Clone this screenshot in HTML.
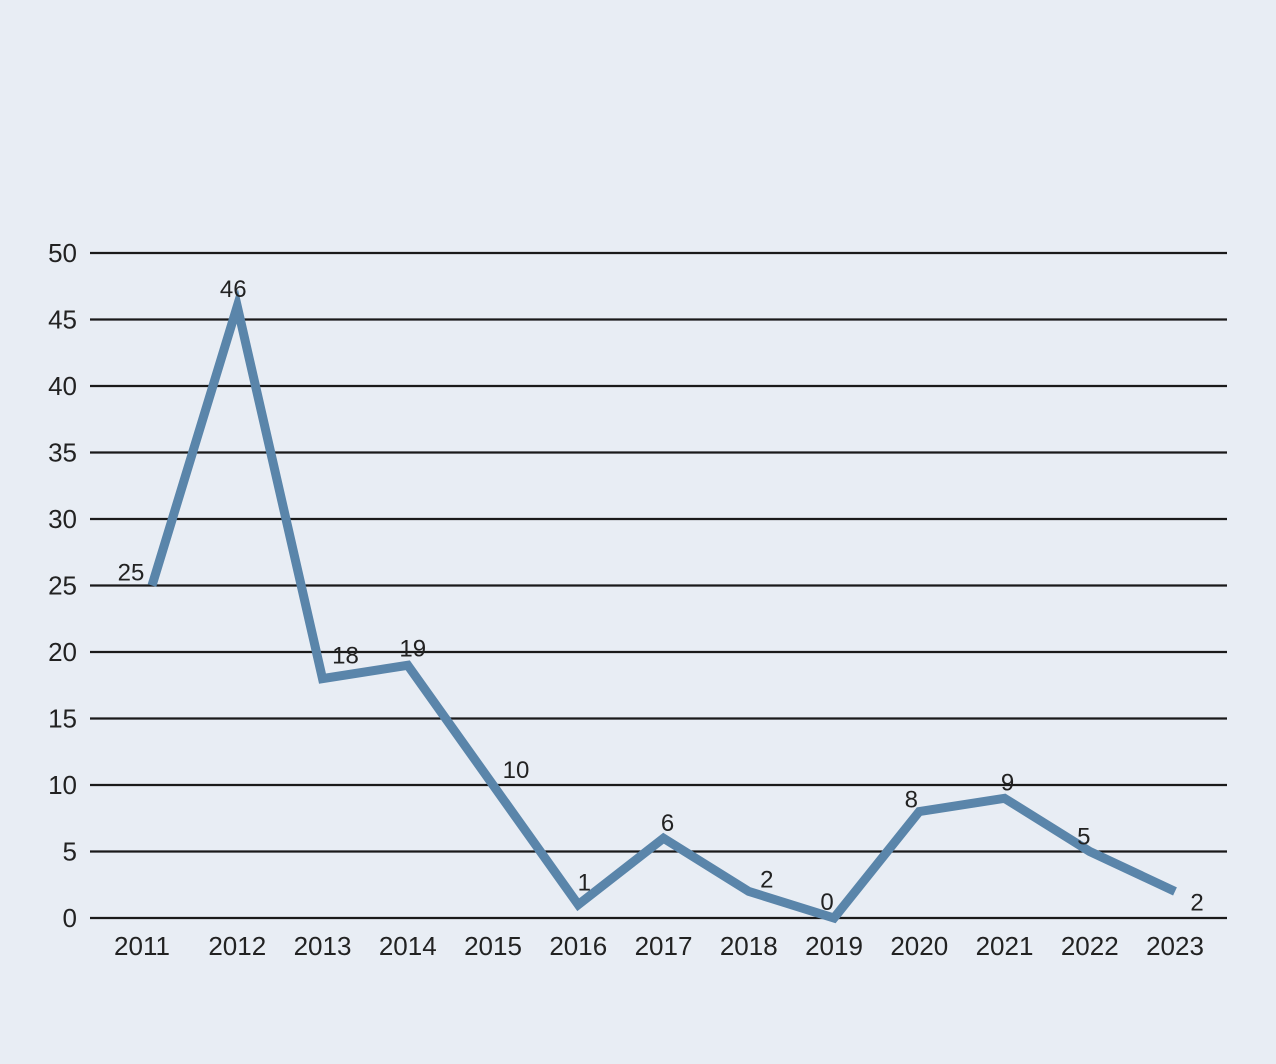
<!DOCTYPE html>
<html><head><meta charset="utf-8"><style>
body{margin:0;background:#e8edf4;}
svg{display:block;font-family:"Liberation Sans",sans-serif;}
</style></head><body>
<svg id="chart" width="1276" height="1064" viewBox="0 0 1276 1064">
<rect width="1276" height="1064" fill="#e8edf4"/>
<g id="grid"></g><g id="yt"></g><g id="xt"></g><g id="series"></g><g id="vals"></g>
</svg>
<script>
const years=["2011","2012","2013","2014","2015","2016","2017","2018","2019","2020","2021","2022","2023"];
const values=[25,46,18,19,10,1,6,2,0,8,9,5,2];
const yTicks=[0,5,10,15,20,25,30,35,40,45,50];
// label offsets (styling only)
const ldx=[-21,-4,23,5,23,6,4,18,-7,-8,3,-6,22];
const ldy=[-14,-18,-24,-18,-16,-23,-16,-13,-17,-13,-17,-16,10];
const NS="http://www.w3.org/2000/svg";
const x=i=>152+i*(1175-152)/(years.length-1);
const y=v=>918-v*(918-253)/50;
function mk(t,a,p){const e=document.createElementNS(NS,t);for(const k in a)e.setAttribute(k,a[k]);p.appendChild(e);return e;}
const G=document.getElementById('grid'),YT=document.getElementById('yt'),XT=document.getElementById('xt'),S=document.getElementById('series'),V=document.getElementById('vals');
yTicks.forEach(t=>{
 const l=mk('line',{x1:90,x2:1227,y1:y(t),y2:y(t),stroke:'#1a1a1a','stroke-width':2.2},G);
 
 
 const tx=mk('text',{x:77,y:y(t)+9,'text-anchor':'end','font-size':26,fill:'#222'},YT);
 tx.textContent=t;
 
 
});
years.forEach((yr,i)=>{
 const tx=mk('text',{x:x(i)-(i===0?10:0),y:955,'text-anchor':'middle','font-size':26,fill:'#222'},XT);
 tx.textContent=yr;
 
 
});
const pl=mk('polyline',{points:values.map((v,i)=>x(i)+','+y(v)).join(' '),fill:'none',stroke:'#5a85aa','stroke-width':9,'stroke-linejoin':'miter','stroke-linecap':'butt'},S);


values.forEach((v,i)=>{
 const tx=mk('text',{x:x(i)+ldx[i],y:y(v)+ldy[i]+9,'text-anchor':'middle','font-size':24,fill:'#222'},V);
 tx.textContent=v;
 
 
});
</script>
</body></html>
